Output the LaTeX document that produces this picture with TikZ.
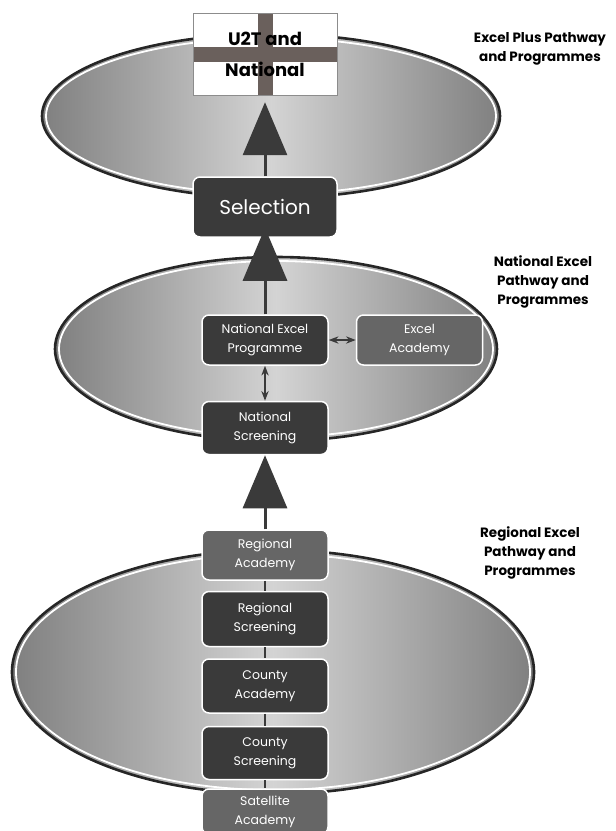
\documentclass[tikz,border=0pt]{standalone}
\usepackage{fontspec}
\setmainfont{Poppins}
\usetikzlibrary{positioning,arrows.meta}
\definecolor{boxgray}{HTML}{3A3A3A}
\definecolor{acadgray}{HTML}{666666}
\definecolor{crossgray}{HTML}{6A605C}

\begin{document}
\begin{tikzpicture}[x=1pt, y=-1pt, node distance=10pt,
    stage/.style={draw=white, line width=1.5pt, fill=boxgray, rounded corners=7pt, text=white, align=center, minimum width=126pt, minimum height=53pt, font=\fontsize{12.5}{19}\selectfont},
    academy/.style={stage, fill=acadgray},
    band/.style={draw=black!85, line width=2.6pt, left color=black!50, right color=black!50, middle color=black!17},
    ring/.style={draw=white, line width=1.8pt},
    tier/.style={align=center, font=\bfseries\fontsize{13.5}{19}\selectfont},
    bigarrow/.style={draw=boxgray, line width=3pt, -{Triangle[length=53pt, width=44pt]}},
    link/.style={draw=boxgray, line width=1.5pt},
    >=Stealth
  ]
  \useasboundingbox (0,0) rectangle (616,831);

  % backdrop bands
  \draw[band] (271,116) ellipse (229 and 82);
  \draw[ring] (271,116) ellipse (225 and 78);
  \draw[band] (276,349) ellipse (221 and 92);
  \draw[ring] (276,349) ellipse (217 and 88);
  \draw[band] (273,672) ellipse (261 and 122);
  \draw[ring] (273,672) ellipse (257 and 118);

  % top: flag
  \node[draw=black!45, fill=white, minimum width=144pt, minimum height=82pt, align=center,
        font=\bfseries\fontsize{18}{31}\selectfont,
        path picture={
          \fill[crossgray] ([xshift=-7.5pt]path picture bounding box.north) rectangle ([xshift=7.5pt]path picture bounding box.south);
          \fill[crossgray] ([yshift=7.5pt]path picture bounding box.west) rectangle ([yshift=-7.5pt]path picture bounding box.east);
        }] (flag) at (265,54) {U2T and\\National};

  % national stages
  \node[stage, minimum width=144pt, minimum height=60pt, font=\fontsize{20}{24}\selectfont] (sel) at (265,207) {Selection};
  \node[stage, minimum height=50pt] (nep) at (265,340) {National Excel\\Programme};
  \node[academy, right=27pt of nep, minimum height=50pt] (ea) {Excel\\Academy};
  \node[stage] (ns) at (265,428) {National\\Screening};

  % regional stages
  \node[academy, minimum height=50pt] (ra) at (265,555) {Regional\\Academy};
  \node[stage, below=10pt of ra, minimum height=55pt] (rs) {Regional\\Screening};
  \node[stage, below=11pt of rs, minimum height=54pt] (ca) {County\\Academy};
  \node[stage, below=12pt of ca] (cs) {County\\Screening};
  \node[academy, below=8pt of cs, minimum height=45pt] (sa) {Satellite\\Academy};

  % arrows
  \draw[bigarrow, shorten >=7pt] (sel) -- (flag);
  \draw[bigarrow, shorten >=-10pt] (nep) -- (sel);
  \draw[bigarrow] (ra) -- (ns);
  \draw[link, <->] (nep) -- (ea);
  \draw[link, <->] (nep) -- (ns);
  \draw[link] (ra) -- (rs);
  \draw[link] (rs) -- (ca);
  \draw[link] (ca) -- (cs);
  \draw[link] (cs) -- (sa);

  % tier labels
  \node[tier] (plus) at (540,49) {Excel Plus Pathway\\and Programmes};
  \node[tier] (natl) at (543,282) {National Excel\\Pathway and\\Programmes};
  \node[tier] (regl) at (530,553) {Regional Excel\\Pathway and\\Programmes};
\end{tikzpicture}
\end{document}
